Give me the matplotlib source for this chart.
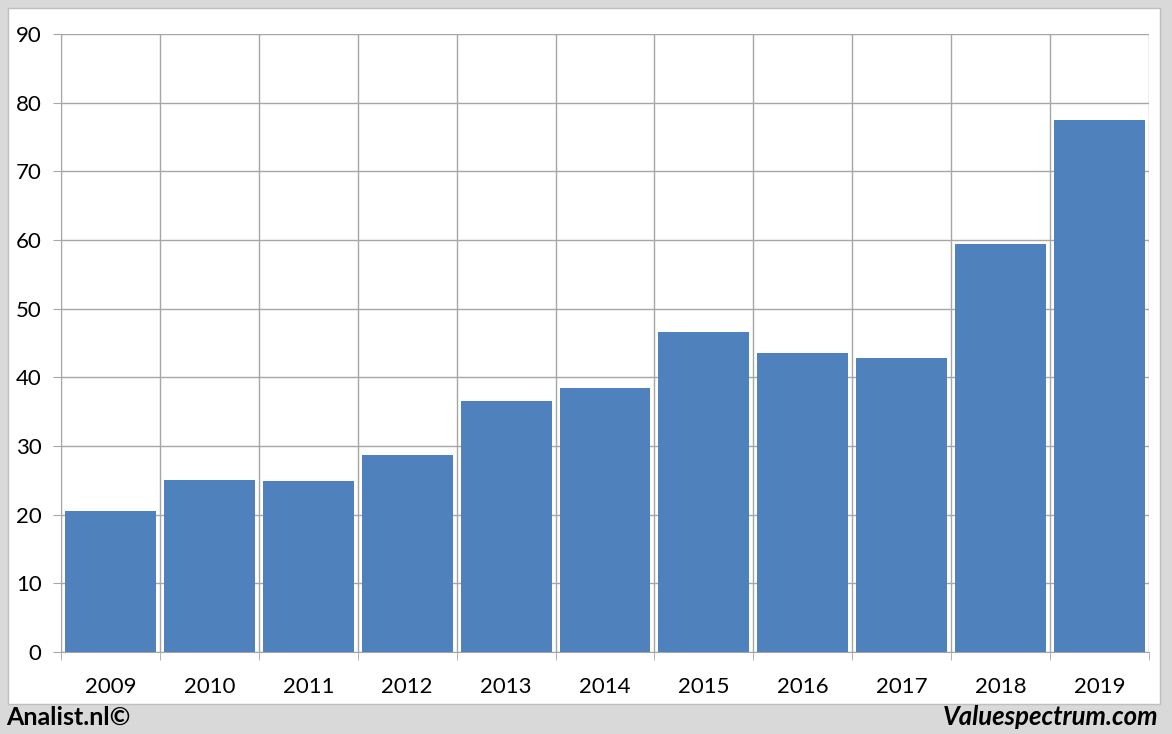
import matplotlib
matplotlib.use("Agg")
import matplotlib.pyplot as plt
from matplotlib.patches import Rectangle

years = ["2009", "2010", "2011", "2012", "2013", "2014", "2015", "2016", "2017", "2018", "2019"]
values = [20.5, 25.0, 24.9, 28.7, 36.5, 38.4, 46.6, 43.5, 42.8, 59.4, 77.5]
yticks = [0, 10, 20, 30, 40, 50, 60, 70, 80, 90]

plt.rcParams['font.family'] = ['Lato', 'DejaVu Sans']

W, H = 1172, 734
fig = plt.figure(figsize=(W / 100, H / 100), dpi=100)
fig.patch.set_facecolor('#d9d9d9')
# white inner panel
fig.patches.append(Rectangle((8 / W, 1 - 704 / H), (1160 - 8) / W, (704 - 8) / H,
                             transform=fig.transFigure, facecolor='white',
                             edgecolor='#bfbfbf', linewidth=1.0, zorder=-10))

ax = fig.add_axes([61 / W, 1 - 652 / H, (1149 - 61) / W, (652 - 34) / H])
ax.set_zorder(5)
ax.set_facecolor('white')
x = list(range(len(years)))
ax.bar(x, values, width=0.92, color='#4f81bd', zorder=3)

ax.set_xlim(-0.5, len(years) - 0.5)
ax.set_ylim(0, 90)
ax.set_yticks(yticks)
ax.set_yticklabels([str(v) for v in yticks])
ax.set_xticks(x)
ax.set_xticklabels(years)
ax.set_xticks([i - 0.5 for i in range(len(years) + 1)], minor=True)

grid_c = '#a6a6a6'
ax.yaxis.grid(True, color=grid_c, linewidth=1.0, zorder=0)
ax.xaxis.grid(True, which='minor', color=grid_c, linewidth=1.0, zorder=0)
ax.xaxis.grid(False, which='major')
for s in ['top', 'right']:
    ax.spines[s].set_visible(False)
ax.spines['left'].set_color(grid_c)
ax.spines['bottom'].set_color(grid_c)
ax.tick_params(axis='y', length=6, color=grid_c, pad=8, labelsize=16, labelcolor='black')
ax.tick_params(axis='x', which='major', length=0, pad=18, labelsize=16, labelcolor='black')
ax.tick_params(axis='x', which='minor', length=6, color=grid_c, direction='out')

fig.text(6 / W, 1 - 717 / H, "Analist.nl©", fontsize=18, fontweight='bold',
         ha='left', va='center', color='black')
fig.text(1158 / W, 1 - 717 / H, "Valuespectrum.com", fontsize=18.5, fontweight='bold',
         fontstyle='italic', ha='right', va='center', color='black')

fig.savefig("out.png", dpi=100, facecolor=fig.get_facecolor())
